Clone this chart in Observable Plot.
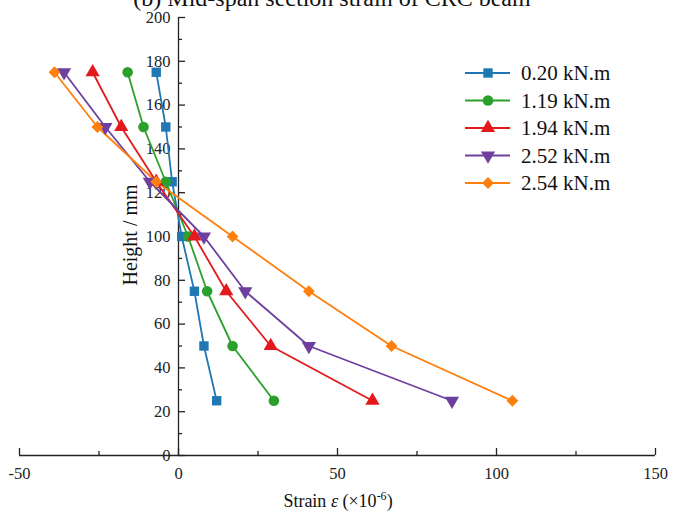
<!DOCTYPE html>
<html><head><meta charset="utf-8">
<script src="https://cdn.jsdelivr.net/npm/d3@7"></script>
<script src="https://cdn.jsdelivr.net/npm/@observablehq/plot@0.6"></script>
<style>
body{margin:0;background:#fff;}
#wrap{position:relative;width:684px;height:513px;}
svg{font-family:"Liberation Serif","DejaVu Serif",serif;}
</style></head><body><div id="wrap"></div>
<script>
const titleText = "(b) Mid-span section strain of CRC beam";
const heights = [175, 150, 125, 100, 75, 50, 25];
const seriesNames = ["0.20 kN.m", "1.19 kN.m", "1.94 kN.m", "2.52 kN.m", "2.54 kN.m"];
const strain020 = [-7, -4, -2, 1, 5, 8, 12];
const strain119 = [-16, -11, -4, 3, 9, 17, 30];
const strain194 = [-27, -18, -7, 5, 15, 29, 61];
const strain252 = [-36, -23, -9, 8, 21, 41, 86];
const strain254 = [-39, -25.5, -7, 17, 41, 67, 105];
const seriesColors = ["#1f77b4", "#2ca02c", "#e3191c", "#6f3fa0", "#ff7f0e"];
const xTicks = [-50, 0, 50, 100, 150];
const xMinorTicks = [-25, 25, 75, 125];
const yTicks = [0, 20, 40, 60, 80, 100, 120, 140, 160, 180, 200];
const yMinorTicks = [10, 30, 50, 70, 90, 110, 130, 150, 170, 190];

const sqrt3 = Math.sqrt(3);
const triangleDown = {
  draw(context, size) {
    const y = Math.sqrt(size / (sqrt3 * 3));
    context.moveTo(0, y * 2);
    context.lineTo(-sqrt3 * y, -y);
    context.lineTo(sqrt3 * y, -y);
    context.closePath();
  }
};
const symbols = [d3.symbolSquare, d3.symbolCircle, d3.symbolTriangle, triangleDown, d3.symbolDiamond2];

const allStrains = [strain020, strain119, strain194, strain252, strain254];
const rows = [];
seriesNames.forEach((name, i) => {
  heights.forEach((h, j) => rows.push({series: name, height: h, strain: allStrains[i][j]}));
});

const axisColor = "#222";
const fmt = d => String(d);
const plot = Plot.plot({
  width: 684,
  height: 513,
  marginLeft: 19,
  marginRight: 29,
  marginTop: 17,
  marginBottom: 58,
  style: {fontFamily: "'Liberation Serif', serif", background: "#fff", color: axisColor},
  x: {domain: [-50, 150], axis: null},
  y: {domain: [0, 200], axis: null},
  color: {domain: seriesNames, range: seriesColors},
  symbol: {domain: seriesNames, range: symbols},
  marks: [
    Plot.ruleX([0], {stroke: axisColor, strokeWidth: 1.3}),
    Plot.ruleY([0], {stroke: axisColor, strokeWidth: 1.3}),
    Plot.axisY(yTicks, {x: 0, tickSize: -7, tickFormat: () => "", label: null, stroke: axisColor, strokeWidth: 1.3}),
    Plot.axisY(yMinorTicks, {x: 0, tickSize: -4, tickFormat: () => "", label: null, stroke: axisColor, strokeWidth: 1.3}),
    Plot.axisY(yTicks, {x: 0, tickSize: 0, tickPadding: 8, tickFormat: fmt, label: null, fontSize: 16.5, fill: axisColor}),
    Plot.axisX(xTicks, {tickSize: -7, tickFormat: () => "", label: null, stroke: axisColor, strokeWidth: 1.3}),
    Plot.axisX(xMinorTicks, {tickSize: -4, tickFormat: () => "", label: null, stroke: axisColor, strokeWidth: 1.3}),
    Plot.axisX(xTicks, {tickSize: 0, tickPadding: 12, tickFormat: fmt, label: null, fontSize: 16.5, fill: axisColor}),
    Plot.line(rows, {x: "strain", y: "height", z: "series", stroke: "series", strokeWidth: 1.8}),
    Plot.dot(rows, {x: "strain", y: "height", fill: "series", symbol: "series", r: 5.3})
  ]
});
document.getElementById("wrap").appendChild(plot);

const svg = d3.select(plot);
const font = "'Liberation Serif', serif";
// title
svg.append("text").attr("x", 332).attr("y", 6).attr("text-anchor", "middle")
  .attr("font-size", 24).attr("font-family", font).attr("fill", "#111").text(titleText);
// y label
svg.append("text").attr("transform", "translate(137,235) rotate(-90)").attr("text-anchor", "middle")
  .attr("font-size", 20).attr("font-family", font).attr("fill", "#111").text("Height / mm");
// x label
const xl = svg.append("text").attr("x", 338).attr("y", 507).attr("text-anchor", "middle")
  .attr("font-size", 18).attr("font-family", font).attr("fill", "#111");
xl.append("tspan").text("Strain ");
xl.append("tspan").attr("font-style", "italic").text("ε");
xl.append("tspan").text(" (×10");
xl.append("tspan").attr("font-size", 12).attr("dy", -7).text("-6");
xl.append("tspan").attr("dy", 7).text(")");
// legend
const lg = svg.append("g");
seriesNames.forEach((name, i) => {
  const y = 73 + i * 27.5;
  lg.append("line").attr("x1", 465).attr("x2", 510).attr("y1", y).attr("y2", y)
    .attr("stroke", seriesColors[i]).attr("stroke-width", 1.8);
  lg.append("path").attr("transform", `translate(488,${y})`)
    .attr("d", d3.symbol(symbols[i], Math.PI * 5.3 * 5.3)()).attr("fill", seriesColors[i]);
  lg.append("text").attr("x", 521).attr("y", y + 7).attr("text-anchor", "start").attr("font-size", 21)
    .attr("font-family", font).attr("fill", "#111").text(name);
});
</script></body></html>
